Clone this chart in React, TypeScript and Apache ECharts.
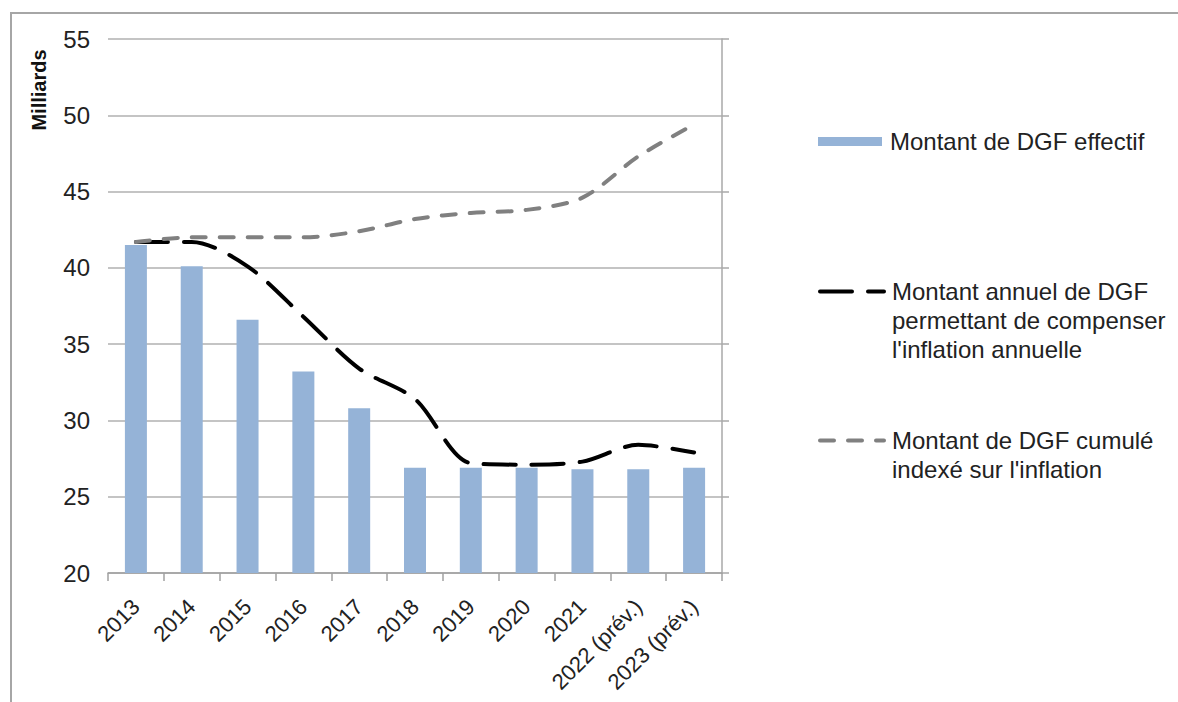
import React, { useEffect, useRef } from "react";
import * as echarts from "echarts";

const categories = ["2013", "2014", "2015", "2016", "2017", "2018", "2019", "2020", "2021", "2022 (prév.)", "2023 (prév.)"];
const effectif = [41.5, 40.1, 36.6, 33.2, 30.8, 26.9, 26.9, 26.9, 26.8, 26.8, 26.9];
const compensation = [41.7, 41.7, 40.1, 36.8, 33.4, 31.4, 27.2, 27.1, 27.3, 28.4, 27.9];
const cumul = [41.7, 42.0, 42.0, 42.0, 42.4, 43.2, 43.6, 43.8, 44.6, 47.3, 49.4];

const yMin = 20;
const yMax = 55;
const yStep = 5;

const nameBar = "Montant de DGF effectif";
const nameBlack = "Montant annuel de DGF permettant de compenser l'inflation annuelle";
const nameGray = "Montant de DGF cumulé indexé sur l'inflation";
const axisTitle = "Milliards";

const FONT = "'Liberation Sans', Arial, sans-serif";

export default function App() {
  const ref = useRef<HTMLDivElement>(null);
  useEffect(() => {
    if (!ref.current) return;
    const chart = echarts.init(ref.current, undefined, { renderer: "svg" });
    const legendText = { fontFamily: FONT, fontSize: 24, color: "#222", lineHeight: 29, padding: [0, 0, 0, 3] };
    const hiddenSymbol = { color: "transparent", borderWidth: 0, opacity: 0 };
    chart.setOption({
      animation: false,
      backgroundColor: "#fff",
      textStyle: { fontFamily: FONT },
      grid: { left: 108, right: 456, top: 39, bottom: 129 },
      legend: [
        {
          data: [nameBar],
          left: 818,
          top: 127,
          padding: 0,
          icon: "rect",
          itemWidth: 64,
          itemHeight: 9,
          textStyle: legendText,
          formatter: () => "Montant de DGF effectif",
        },
        {
          data: [nameBlack],
          left: 818,
          top: 219,
          padding: 0,
          itemWidth: 64,
          itemHeight: 9,
          lineStyle: { width: 4 },
          itemStyle: hiddenSymbol,
          textStyle: legendText,
          formatter: () => "\n\nMontant annuel de DGF\npermettant de compenser\nl'inflation annuelle",
        },
        {
          data: [nameGray],
          left: 818,
          top: 397,
          padding: 0,
          itemWidth: 64,
          itemHeight: 9,
          lineStyle: { width: 4 },
          itemStyle: hiddenSymbol,
          textStyle: legendText,
          formatter: () => "\nMontant de DGF cumulé\nindexé sur l'inflation",
        },
      ],
      xAxis: {
        type: "category",
        data: categories,
        boundaryGap: true,
        axisLine: { show: true, lineStyle: { color: "#a0a0a0", width: 1.5 } },
        axisTick: { show: true, length: 8, alignWithLabel: false, lineStyle: { color: "#a0a0a0", width: 1.5 } },
        axisLabel: { interval: 0, rotate: 45, margin: 30, fontSize: 22, color: "#222", fontFamily: FONT },
      },
      yAxis: [
        {
          type: "value",
          min: yMin,
          max: yMax,
          interval: yStep,
          axisLine: { show: false },
          axisTick: { show: false },
          axisLabel: { margin: 18, fontSize: 24, color: "#222", fontFamily: FONT },
          splitLine: { show: true, lineStyle: { color: "#b0b0b0", width: 1.5 } },
        },
        {
          type: "value",
          position: "right",
          min: yMin,
          max: yMax,
          interval: yStep,
          axisLine: { show: true, lineStyle: { color: "#a8a8a8", width: 1.5 } },
          axisTick: { show: true, length: 7, lineStyle: { color: "#a8a8a8", width: 1.5 } },
          axisLabel: { show: false },
          splitLine: { show: false },
        },
      ],
      series: [
        {
          name: nameBar,
          type: "bar",
          data: effectif,
          barWidth: 22,
          itemStyle: { color: "#95b3d7" },
        },
        {
          name: nameBlack,
          type: "line",
          data: compensation,
          smooth: 0.3,
          symbol: "none",
          lineStyle: { color: "#000", width: 4, type: [32, 16], cap: "round" },
          z: 3,
        },
        {
          name: nameGray,
          type: "line",
          data: cumul,
          smooth: 0.3,
          symbol: "none",
          lineStyle: { color: "#808080", width: 4, type: [14, 14], cap: "round" },
          z: 4,
        },
      ],
      graphic: [
        {
          type: "rect",
          silent: true,
          shape: { x: 11, y: 13, width: 1400, height: 900 },
          style: { fill: "none", stroke: "#a6a6a6", lineWidth: 2 },
        },
        {
          type: "text",
          x: 39,
          y: 90,
          rotation: Math.PI / 2,
          style: {
            text: axisTitle,
            fontFamily: FONT,
            fontSize: 20,
            fontWeight: "bold",
            fill: "#111",
            align: "center",
            verticalAlign: "middle",
          },
        },
      ],
    });
    return () => chart.dispose();
  }, []);
  return <div ref={ref} style={{ position: "absolute", left: 0, top: 0, width: 1178, height: 702 }} />;
}
